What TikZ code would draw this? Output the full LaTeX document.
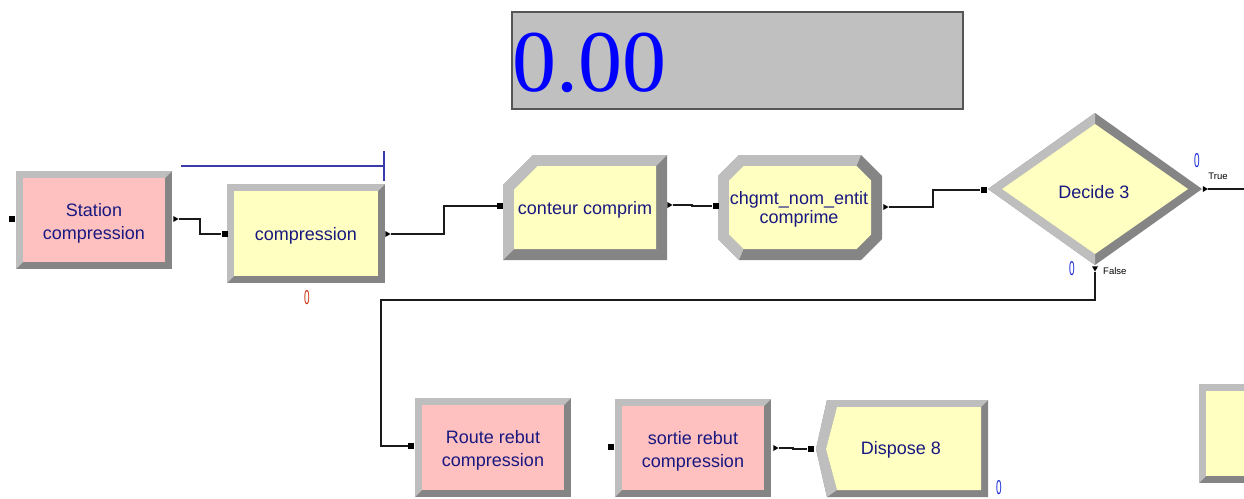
\documentclass[tikz,border=0pt]{standalone}
\usepackage{fontspec}
\usepackage{graphicx}
\setmainfont{Liberation Sans}
\newfontfamily\serifdisp{Liberation Serif}
\usetikzlibrary{shapes.geometric}

\definecolor{framelt}{HTML}{BEBEBE}
\definecolor{framedk}{HTML}{858585}
\definecolor{modpink}{HTML}{FFC0C0}
\definecolor{modyellow}{HTML}{FFFFC2}
\definecolor{modtext}{RGB}{24,24,128}
\definecolor{wirecol}{HTML}{1A1A1A}
\definecolor{qline}{HTML}{3A3AAA}
\definecolor{cntred}{HTML}{C83010}
\definecolor{cntblue}{HTML}{1828D8}
\definecolor{dispbg}{HTML}{C0C0C0}
\definecolor{dispedge}{HTML}{555555}

% narrow counter digit
\newcommand\cnt[1]{\scalebox{0.5}[1]{#1}}

% beveled rectangular module: x1,y1,x2,y2,frame width,fill
\newcommand\bevelrect[6]{%
  \fill[framedk] (#1,#2) rectangle (#3,#4);
  \fill[framelt] (#1,#4) -- (#1,#2) -- (#3,#2) -- ({#3-#5},{#2+#5}) --
    ({#1+#5},{#2+#5}) -- ({#1+#5},{#4-#5}) -- cycle;
  \fill[#6] ({#1+#5},{#2+#5}) rectangle ({#3-#5},{#4-#5});
}

\tikzset{
  modlabel/.style={text=modtext, font=\fontsize{18}{23}\selectfont, align=center, inner sep=0pt},
  inport/.style={rectangle, fill=black, minimum size=6pt, inner sep=0pt},
  outport/.style={regular polygon, regular polygon sides=3, fill=black,
    minimum size=7pt, inner sep=0pt, shape border rotate=-90},
  downport/.style={outport, shape border rotate=180},
  wire/.style={draw=wirecol, line width=1.2pt},
  counter/.style={inner sep=0pt, font=\fontsize{20}{20}\selectfont},
  branchlabel/.style={inner sep=0pt, font=\fontsize{9.5}{10}\selectfont, text=black}
}

\begin{document}
\begin{tikzpicture}[x=1pt,y=-1pt]
\useasboundingbox (0,0) rectangle (1244,498);
\fill[white] (0,0) rectangle (1244,498);

% digital display
\draw[fill=dispbg, draw=dispedge, line width=1.5pt] (512,12) rectangle (963,109);
\node[anchor=base west, inner sep=0pt, text=blue,
      font=\serifdisp\fontsize{88}{88}\selectfont] (clock) at (512,91) {0.00};

% queue animation line
\coordinate (qstart) at (181,166);
\coordinate (qend) at (384,166);
\draw[qline, line width=1.3pt] (qstart) -- (qend);
\draw[qline, line width=1.3pt] (384,151) -- (384,181);

% Station compression
\bevelrect{16}{171}{172}{269}{7}{modpink}
\node[modlabel] (station) at (94,223) {Station\\compression};

% compression (process)
\bevelrect{227}{184}{385}{283}{7}{modyellow}
\node[modlabel] (process) at (306,236) {compression};
\node[counter, text=cntred] (procCount) at (307,298) {\cnt{0}};

% conteur comprim (record)
\fill[framedk] (503,185) -- (533,155) -- (667,155) -- (667,260) -- (503,260) -- cycle;
\fill[framelt] (503,260) -- (503,185) -- (533,155) -- (667,155) -- (656,166) --
  (537.5,166) -- (514,189.5) -- (514,249) -- cycle;
\fill[modyellow] (514,189.5) -- (537.5,166) -- (656,166) -- (656,249) -- (514,249) -- cycle;
\node[modlabel] (record) at (585,210) {conteur comprim};

% chgmt_nom_entit comprime (assign)
\fill[framedk] (739,155) -- (861,155) -- (882,176) -- (882,239) -- (861,260) --
  (739,260) -- (718,239) -- (718,176) -- cycle;
\fill[framelt] (739,260) -- (718,239) -- (718,176) -- (739,155) -- (861,155) --
  (856.5,166) -- (743.5,166) -- (729,180.5) -- (729,234.5) -- (743.5,249) -- cycle;
\fill[modyellow] (743.5,166) -- (856.5,166) -- (871,180.5) -- (871,234.5) --
  (856.5,249) -- (743.5,249) -- (729,234.5) -- (729,180.5) -- cycle;
\node[modlabel, font=\fontsize{18}{19}\selectfont] (assign) at (799,209) {chgmt\_nom\_entit\\comprime};

% Decide 3
\fill[framedk] (988,189) -- (1095,113) -- (1202,189) -- (1095,265) -- cycle;
\fill[framelt] (1095,265) -- (988,189) -- (1095,113) -- (1095,124) -- (1002,189) -- (1095,254) -- cycle;
\fill[modyellow] (1002,189) -- (1095,124) -- (1188,189) -- (1095,254) -- cycle;
\node[modlabel] (decide) at (1094,192) {Decide 3};
\node[counter, text=cntblue] (trueCount) at (1197,161) {\cnt{0}};
\node[counter, text=cntblue] (falseCount) at (1072,269) {\cnt{0}};
\node[branchlabel] (trueLbl) at (1218,176) {True};
\node[branchlabel, anchor=west] (falseLbl) at (1103,271) {False};

% Route rebut compression
\bevelrect{415}{398}{571}{497}{7}{modpink}
\node[modlabel] (route) at (493,450) {Route rebut\\compression};

% sortie rebut compression
\bevelrect{615}{399}{771}{497}{7}{modpink}
\node[modlabel] (sortie) at (693,451) {sortie rebut\\compression};

% Dispose 8
\fill[framedk] (827,400) -- (988,400) -- (988,497) -- (827,497) -- (816,449) -- cycle;
\fill[framelt] (827,497) -- (816,449) -- (827,400) -- (988,400) -- (981,407) --
  (837,407) -- (826,449) -- (837,490) -- cycle;
\fill[modyellow] (837,407) -- (981,407) -- (981,490) -- (837,490) -- (826,449) -- cycle;
\node[modlabel] (dispose) at (901,450) {Dispose 8};
\node[counter, text=cntblue] (dispCount) at (999,488) {\cnt{0}};

% module cut by the right edge
\begin{scope}
  \clip (0,0) rectangle (1244,498);
  \bevelrect{1199}{384}{1360}{483}{7}{modyellow}
\end{scope}

% entry and exit points
\node[inport] (stIn) at (11.5,219) {};
\node[outport] (stOut) at (175,219) {};
\node[inport] (pcIn) at (224.5,234) {};
\node[outport] (pcOut) at (387,234) {};
\node[inport] (rcIn) at (500,206) {};
\node[outport] (rcOut) at (669,205) {};
\node[inport] (asIn) at (715.5,206) {};
\node[outport] (asOut) at (885,207) {};
\node[inport] (dcIn) at (983.5,190) {};
\node[outport] (dcTrue) at (1204.5,189) {};
\node[downport] (dcFalse) at (1095,268) {};
\node[inport] (rtIn) at (411,446) {};
\node[inport] (soIn) at (611,447) {};
\node[outport] (soOut) at (775,448) {};
\node[inport] (dpIn) at (810.5,449) {};
\coordinate (trueEnd) at (1244,189);
\coordinate (falseBend) at (381,300);

% connectors
\draw[wire] (stOut) -- ++(25,0) |- (pcIn);
\draw[wire] (pcOut) -- ++(57,0) |- (rcIn);
\draw[wire] (rcOut) -- ++(23,0) |- (asIn);
\draw[wire] (asOut) -- ++(48,0) |- (dcIn);
\draw[wire] (dcTrue) -- (trueEnd);
\draw[wire] (dcFalse) |- (falseBend) |- (rtIn);
\draw[wire] (soOut) -- ++(18,0) |- (dpIn);
\end{tikzpicture}
\end{document}
